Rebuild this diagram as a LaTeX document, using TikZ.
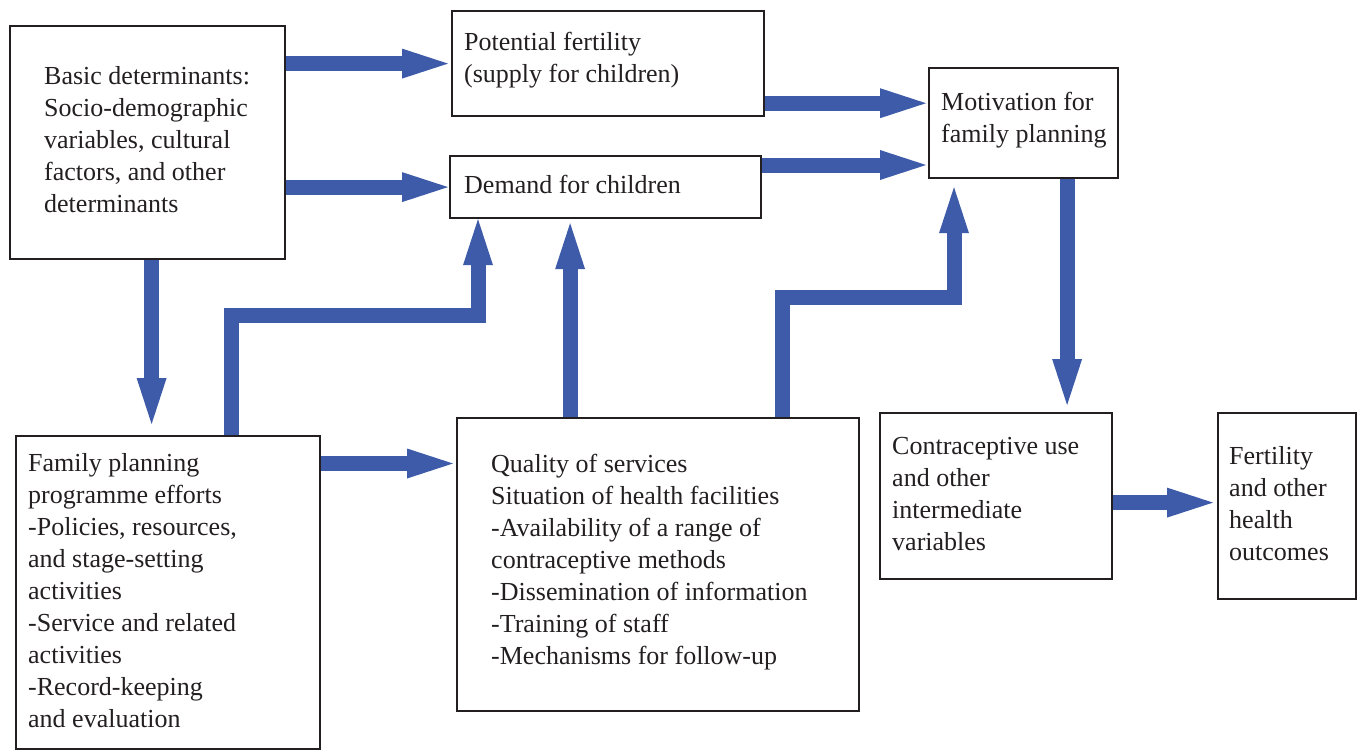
\documentclass[tikz,border=0pt]{standalone}
\usepackage{fontspec}
\setmainfont{Liberation Serif}
\usetikzlibrary{arrows.meta,calc}
\definecolor{arr}{RGB}{61,91,169}
\definecolor{ink}{RGB}{35,31,32}
\begin{document}
\begin{tikzpicture}[x=1pt,y=-1pt,
  box/.style={draw=ink,line width=2.2pt,rectangle,inner sep=0pt,anchor=north west},
  lbl/.style={inner sep=0pt,align=left,anchor=west,text=ink,font=\fontsize{26}{32}\selectfont},
  bigarrow/.style={draw=arr,line width=15pt,line join=miter,-{Triangle[length=46pt,width=30pt,line width=0pt]}}]
\useasboundingbox (0,0) rectangle (1357,750);
% boxes
\node[box,minimum width=275pt,minimum height=233pt] (A) at (9,25) {};
\node[box,minimum width=312pt,minimum height=105pt] (B) at (451,10) {};
\node[box,minimum width=311pt,minimum height=62pt] (C) at (449,155) {};
\node[box,minimum width=189pt,minimum height=110pt] (D) at (928,67) {};
\node[box,minimum width=304pt,minimum height=313pt] (E) at (15,435) {};
\node[box,minimum width=402pt,minimum height=293pt] (F) at (456,417) {};
\node[box,minimum width=232pt,minimum height=166pt] (G) at (879,412) {};
\node[box,minimum width=138pt,minimum height=186pt] (H) at (1217,412) {};
% labels
\node[lbl] (At) at ([xshift=35pt,yshift=2.5pt]A.west) {Basic determinants:\\Socio-demographic\\variables, cultural\\factors, and other\\determinants};
\node[lbl] (Bt) at ([xshift=13pt,yshift=3pt]B.west) {Potential fertility\\(supply for children)};
\node[lbl] (Ct) at ([xshift=15pt,yshift=3pt]C.west) {Demand for children};
\node[lbl] (Dt) at ([xshift=13pt,yshift=3pt]D.west) {Motivation for\\family planning};
\node[lbl] (Et) at ([xshift=13pt,yshift=2pt]E.west) {Family planning\\programme efforts\\-Policies, resources,\\and stage-setting\\activities\\-Service and related\\activities\\-Record-keeping\\and evaluation};
\node[lbl] (Ft) at ([xshift=35pt,yshift=2.5pt]F.west) {Quality of services\\Situation of health facilities\\-Availability of a range of\\contraceptive methods\\-Dissemination of information\\-Training of staff\\-Mechanisms for follow-up};
\node[lbl] (Gt) at ([xshift=13pt,yshift=2pt]G.west) {Contraceptive use\\and other\\intermediate\\variables};
\node[lbl] (Ht) at ([xshift=12pt,yshift=3pt]H.west) {Fertility\\and other\\health\\outcomes};
% arrows
\draw[bigarrow,shorten >=3pt] (A.east |- B.west) -- (B.west);
\draw[bigarrow,shorten >=1pt] (A.east |- C.west) -- (C.west);
\draw[bigarrow,shorten >=2pt] ([yshift=14pt]B.south east) coordinate (p3) -- (p3 -| D.west);
\draw[bigarrow,shorten >=2pt] ([yshift=-10pt]C.north east) coordinate (p4) -- (p4 -| D.west);
\draw[bigarrow,shorten >=11pt] ([xshift=4pt]A.south) coordinate (p5) -- (p5 |- E.north);
\draw[bigarrow] ([xshift=63pt]E.north) -- ++(0,-120) -| ([xshift=29pt]C.south west);
\draw[bigarrow,shorten >=4pt] ([xshift=-88pt]F.north) coordinate (p7) -- (p7 |- C.south);
\draw[bigarrow,shorten >=8pt] ([xshift=124pt]F.north) -- ++(0,-120) -| ([xshift=26pt]D.south west);
\draw[bigarrow,shorten >=7pt] ([xshift=43.5pt]D.south) coordinate (p9) -- (p9 |- G.north);
\draw[bigarrow,shorten >=3pt] ([yshift=-28.5pt]E.north east) coordinate (p10) -- (p10 -| F.west);
\draw[bigarrow,shorten >=4pt] ([yshift=-6.5pt]G.east) coordinate (p11) -- (p11 -| H.west);
\end{tikzpicture}
\end{document}
